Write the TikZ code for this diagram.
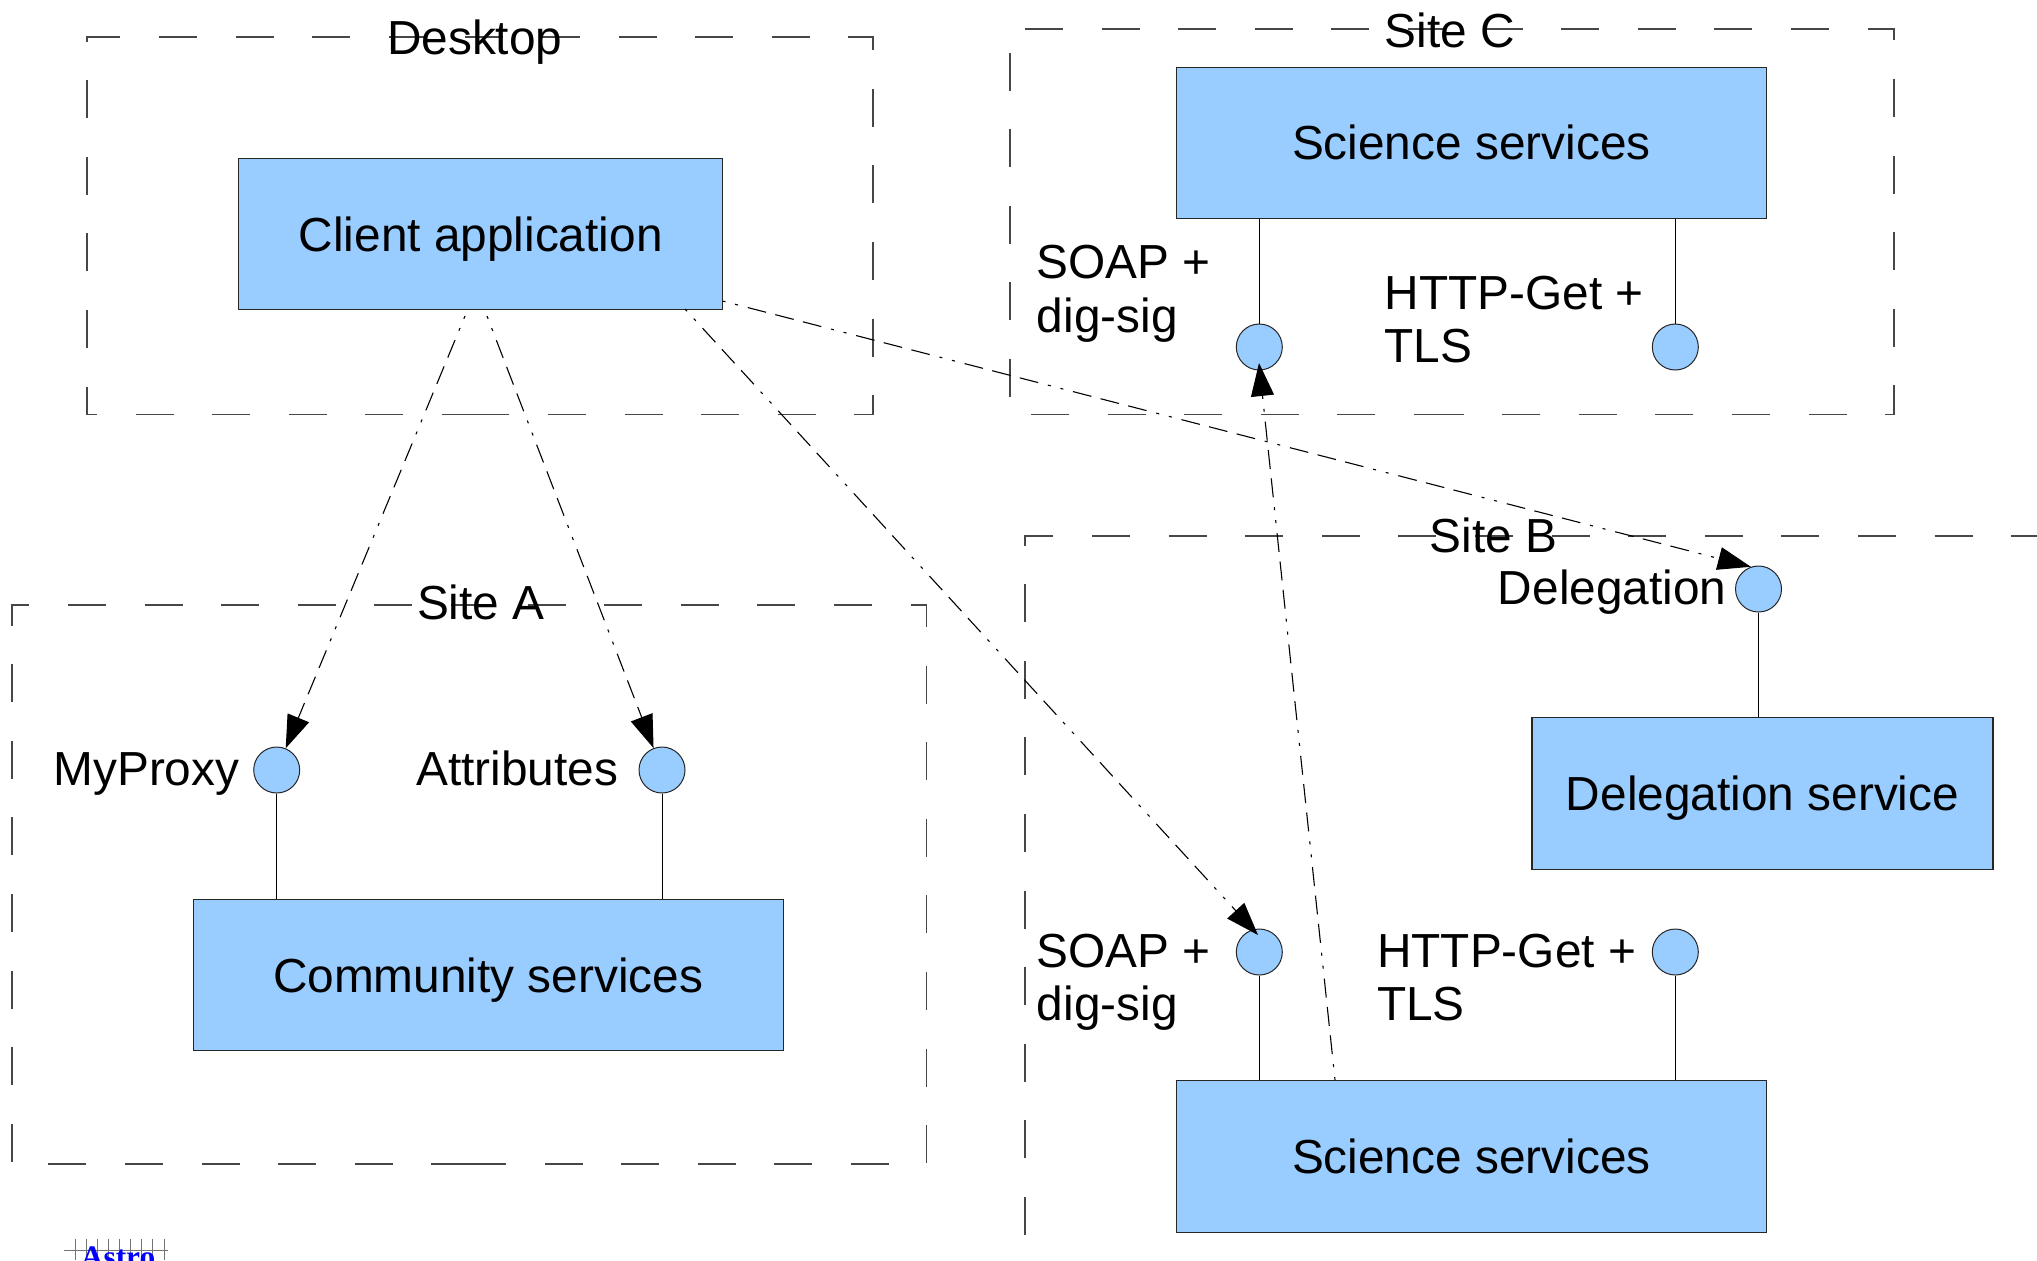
\documentclass[tikz,border=0pt]{standalone}
\usepackage{fontspec}
\setmainfont{Liberation Sans}
\newfontfamily\logofont{Liberation Serif}
\usetikzlibrary{arrows.meta}
\definecolor{boxblue}{HTML}{99CCFF}
\tikzset{
  sitebox/.style={draw=black!72,line width=.65pt,dash pattern=on 19pt off 19.3pt,line join=miter},
  svcbox/.style={draw=black!85,line width=.6pt,fill=boxblue,rectangle,inner sep=0pt,
    minimum height=75.8pt,text height=17pt,text depth=0pt,font=\fontsize{23.9pt}{26.75pt}\selectfont},
  port/.style={draw=black!85,line width=.5pt,fill=boxblue,circle,inner sep=0pt,minimum size=23pt},
  lbl/.style={inner sep=0pt,anchor=base west,font=\fontsize{23.9pt}{26.75pt}\selectfont},
  stub/.style={draw=black,line width=.5pt},
  call/.style={draw=black,line width=.55pt,
    dash pattern=on 1.5pt off 5pt on 1.5pt off 5pt on 9.5pt off 4.75pt on 9.5pt off 4.75pt on 9.5pt off 5pt,
    -{Triangle[length=16.5pt,width=11.5pt]}},
  gridln/.style={draw=black!55,line width=.5pt}
}
\newcommand{\dashrect}[4]{\draw[sitebox] ({(#1+#3)/2},#4) -- (#1,#4) -- (#1,#2) -- (#3,#2) -- (#3,#4) -- ({(#1+#3)/2},#4);}
\begin{document}
\begin{tikzpicture}[x=.5pt,y=-.5pt]
\useasboundingbox (0,0) rectangle (2037,1260);
\clip (0,0) rectangle (2037,1260);
% site frames
\dashrect{87}{36.9}{873}{414.6}
\dashrect{1010}{28.9}{1894}{414.6}
\dashrect{12}{605}{926.7}{1164}
\draw[sitebox] (1025,1311.6) -- (1025,536) -- (2200,536);
% service boxes
\node[svcbox,minimum width=242pt] (client) at (480.7,234) {Client application};
\node[svcbox,minimum width=295pt] (scic) at (1471.3,142.9) {Science services};
\node[svcbox,minimum width=295pt] (scib) at (1471.3,1156.6) {Science services};
\node[svcbox,minimum width=230.5pt] (dele) at (1762.5,793.6) {Delegation service};
\node[svcbox,minimum width=295pt] (comm) at (488.2,975) {Community services};
% ports
\node[port] (soapc) at (1259.3,347) {};
\node[port] (httpc) at (1675.3,347) {};
\node[port] (soapb) at (1259.3,952) {};
\node[port] (httpb) at (1675.3,952) {};
\node[port] (delep) at (1758.5,589) {};
\node[port] (proxy) at (276.7,770) {};
\node[port] (attr) at (662,770) {};
% stubs
\draw[stub] (soapc.north) -- (soapc.north |- scic.south);
\draw[stub] (httpc.north) -- (httpc.north |- scic.south);
\draw[stub] (soapb.south) -- (soapb.south |- scib.north);
\draw[stub] (httpb.south) -- (httpb.south |- scib.north);
\draw[stub] (delep.south) -- (delep.south |- dele.north);
\draw[stub] (proxy.south) -- (proxy.south |- comm.north);
\draw[stub] (attr.south) -- (attr.south |- comm.north);
% calls
\coordinate (s1) at (465,316);
\coordinate (s2) at (487,316);
\coordinate (s3) at (685,309);
\coordinate (s4) at (722.5,301);
\coordinate (s5) at (1335,1080);
\coordinate (t3) at (1258,935);
\coordinate (t5) at (1259,363);
\draw[call] (s1) -- (proxy);
\draw[call] (s2) -- (attr);
\draw[call] (s3) -- (t3);
\draw[call] (s4) -- (delep.109);
\draw[call] (s5) -- (t5);
% labels
\node[lbl] (ldesk) at (386.7,54.5) {Desktop};
\node[lbl] (lsitec) at (1384.3,47.7) {Site C};
\node[lbl] (lsiteb) at (1429.5,552.7) {Site B};
\node[lbl] (lsitea) at (416.7,619) {Site A};
\node[lbl] (ldele) at (1497.5,604) {Delegation};
\node[lbl] (lproxy) at (53,785.5) {MyProxy};
\node[lbl] (lattr) at (416,785.5) {Attributes};
\node[lbl] (lsoapc) at (1036.4,278.5) {SOAP +};
\node[lbl] (ldigc) at (1036.4,332.7) {dig-sig};
\node[lbl] (lhttpc) at (1384.3,309) {HTTP-Get +};
\node[lbl] (ltlsc) at (1384.3,362.7) {TLS};
\node[lbl] (lsoapb) at (1036.4,967.5) {SOAP +};
\node[lbl] (ldigb) at (1036.4,1020.5) {dig-sig};
\node[lbl] (lhttpb) at (1376.7,967.5) {HTTP-Get +};
\node[lbl] (ltlsb) at (1376.7,1020.5) {TLS};
% logo, cut off by the page edge
\draw[gridln] (64,1250) -- (168,1250);
\foreach \gx in {75,86,97.3,108.3,119.3,130.7,141.7,152.7,164}
  \draw[gridln] (\gx,1239) -- (\gx,1260);
\node[inner sep=0pt,anchor=base west,text=blue,font=\logofont\bfseries\fontsize{15.7pt}{18pt}\selectfont] (logo) at (80.5,1267) {Astro};
\end{tikzpicture}
\end{document}
